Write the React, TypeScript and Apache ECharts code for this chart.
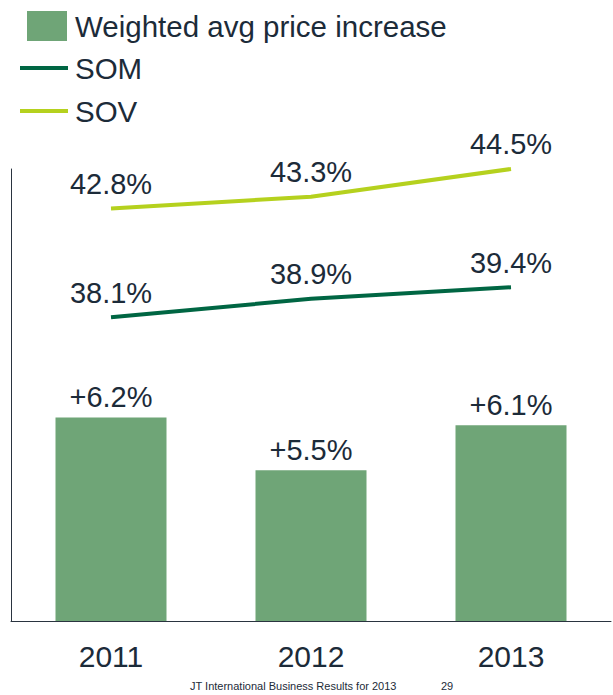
import React, { useEffect, useRef } from "react";
import * as echarts from "echarts";

const categories = ["2011", "2012", "2013"];
const priceIncrease = [6.2, 5.5, 6.1];
const som = [38.1, 38.9, 39.4];
const sov = [42.8, 43.3, 44.5];

const TEXT = "#1c2b39";
const FONT = "'Liberation Sans', Arial, sans-serif";

export default function App() {
  const ref = useRef<HTMLDivElement>(null);
  useEffect(() => {
    const chart = echarts.init(ref.current!, null, { renderer: "svg" });
    const lineLabel = {
      show: true,
      position: "top",
      distance: 10,
      fontSize: 29,
      color: TEXT,
      fontFamily: FONT,
      formatter: (p: any) => p.value.toFixed(1) + "%",
    };
    chart.setOption({
      animation: false,
      textStyle: { fontFamily: FONT, color: TEXT },
      legend: [
        {
          data: ["Weighted avg price increase"],
          left: 22,
          top: 6,
          itemWidth: 40,
          itemHeight: 30,
          icon: "rect",
          selectedMode: false,
          textStyle: { fontSize: 29.5, color: TEXT, fontFamily: FONT, padding: [0, 0, 0, 3] },
        },
        {
          data: ["SOM", "SOV"],
          orient: "vertical",
          left: 15,
          top: 48,
          itemWidth: 48,
          itemHeight: 4,
          itemGap: 13,
          icon: "rect",
          selectedMode: false,
          textStyle: { fontSize: 29.5, lineHeight: 29, color: TEXT, fontFamily: FONT, padding: [0, 0, 0, 2] },
        },
      ],
      grid: { left: 11, right: 2, top: 169, bottom: 74 },
      xAxis: {
        type: "category",
        data: categories,
        axisLine: { show: true, lineStyle: { color: "#2a3440", width: 1 } },
        axisTick: { show: false },
        axisLabel: { fontSize: 30, color: TEXT, fontFamily: FONT, margin: 20 },
      },
      yAxis: [
        {
          type: "value",
          min: 3.5,
          max: 9.5,
          axisLine: { show: true, lineStyle: { color: "#2a3440", width: 1 } },
          axisTick: { show: false },
          axisLabel: { show: false },
          splitLine: { show: false },
        },
        {
          type: "value",
          min: 25,
          max: 44.5,
          position: "left",
          axisLine: { show: false },
          axisTick: { show: false },
          axisLabel: { show: false },
          splitLine: { show: false },
        },
      ],
      series: [
        {
          name: "Weighted avg price increase",
          type: "bar",
          data: priceIncrease,
          barWidth: 111,
          itemStyle: { color: "#6fa577" },
          label: {
            show: true,
            position: "top",
            distance: 6,
            fontSize: 29,
            color: TEXT,
            fontFamily: FONT,
            formatter: (p: any) => "+" + p.value.toFixed(1) + "%",
          },
        },
        {
          name: "SOM",
          type: "line",
          yAxisIndex: 1,
          data: som,
          symbol: "circle",
          symbolSize: 0.1,
          showSymbol: true,
          lineStyle: { color: "#006643", width: 4 },
          itemStyle: { color: "#006643" },
          label: lineLabel,
        },
        {
          name: "SOV",
          type: "line",
          yAxisIndex: 1,
          data: sov,
          symbol: "circle",
          symbolSize: 0.1,
          showSymbol: true,
          lineStyle: { color: "#b5d11e", width: 4 },
          itemStyle: { color: "#b5d11e" },
          label: lineLabel,
        },
      ],
      graphic: [
        {
          type: "text",
          left: 190,
          top: 680,
          style: { text: "JT International Business Results for 2013", fontSize: 11, fill: TEXT, fontFamily: FONT },
        },
        {
          type: "text",
          left: 441,
          top: 680,
          style: { text: "29", fontSize: 11, fill: TEXT, fontFamily: FONT },
        },
      ],
    });
    return () => chart.dispose();
  }, []);
  return <div ref={ref} style={{ width: 613, height: 695, position: "absolute", left: 0, top: 0 }} />;
}
